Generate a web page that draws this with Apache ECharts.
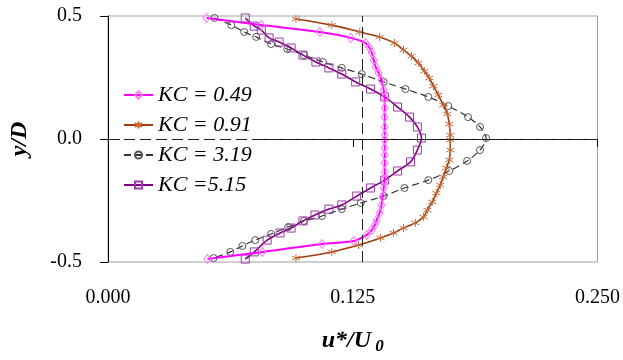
<!DOCTYPE html>
<html>
<head>
<meta charset="utf-8">
<script src="https://cdn.jsdelivr.net/npm/echarts@6/dist/echarts.min.js"></script>
<style>html,body{margin:0;padding:0;background:#fff;}#c{width:623px;height:360px;}</style>
</head>
<body>
<div id="c"></div>
<script>
// y/D positions and u*/U0 values
const kc049U = [0.0503,0.0783,0.1082,0.1240,0.1316,0.1336,0.1347,0.1357,0.1367,0.1382,0.1397,0.1408,0.1413,0.1413,0.1413,0.1413,0.1413,
                0.1413,0.1413,0.1413,0.1413,0.1413,0.1413,0.1408,0.1402,0.1397,0.1387,0.1372,0.1362,0.1347,0.1321,0.1255,0.1093,0.0788,0.0508];
const kc049Y = [0.492,0.463,0.435,0.411,0.390,0.370,0.350,0.321,0.293,0.268,0.240,0.199,0.167,0.126,0.089,0.049,0.016,
                -0.004,-0.037,-0.065,-0.098,-0.134,-0.167,-0.199,-0.236,-0.268,-0.301,-0.329,-0.350,-0.370,-0.390,-0.415,-0.427,-0.459,-0.488];

const kc091U = [0.0960,0.1143,0.1286,0.1387,0.1463,0.1509,0.1550,0.1585,0.1616,0.1641,0.1662,0.1687,0.1712,0.1733,0.1743,0.1748,
                0.1748,0.1748,0.1743,0.1728,0.1712,0.1697,0.1677,0.1656,0.1631,0.1611,0.1570,0.1509,0.1458,0.1392,0.1280,0.1143,0.0960];
const kc091Y = [0.488,0.463,0.435,0.415,0.390,0.362,0.337,0.309,0.276,0.248,0.215,0.179,0.138,0.102,0.061,0.016,
                -0.004,-0.045,-0.085,-0.118,-0.154,-0.187,-0.220,-0.256,-0.289,-0.317,-0.341,-0.362,-0.382,-0.402,-0.431,-0.459,-0.484];

const kc319U = [0.0544,0.0630,0.0696,0.0757,0.0833,0.0915,0.1001,0.1098,0.1194,0.1296,0.1408,0.1519,0.1636,0.1738,0.1839,0.1900,0.1931,
                0.1900,0.1834,0.1743,0.1636,0.1514,0.1408,0.1291,0.1194,0.1093,0.1001,0.0920,0.0833,0.0752,0.0686,0.0625,0.0539];
const kc319Y = [0.492,0.463,0.435,0.415,0.386,0.366,0.341,0.313,0.289,0.264,0.232,0.203,0.171,0.134,0.089,0.049,0.004,
                -0.045,-0.089,-0.130,-0.167,-0.199,-0.232,-0.260,-0.285,-0.313,-0.333,-0.358,-0.386,-0.411,-0.435,-0.459,-0.484];

const kc515U = [0.0701,0.0747,0.0783,0.0823,0.0874,0.0935,0.0996,0.1062,0.1128,0.1194,0.1265,0.1341,0.1413,0.1479,0.1540,0.1580,0.1601,
                0.1580,0.1545,0.1479,0.1413,0.1341,0.1270,0.1194,0.1128,0.1057,0.0996,0.0935,0.0879,0.0813,0.0747,0.0701];
const kc515Y = [0.492,0.459,0.443,0.411,0.394,0.370,0.341,0.313,0.289,0.264,0.232,0.203,0.171,0.130,0.089,0.049,0.004,
                -0.045,-0.093,-0.130,-0.167,-0.199,-0.232,-0.268,-0.285,-0.309,-0.333,-0.362,-0.382,-0.411,-0.459,-0.488];

const seriesNames = ['KC = 0.49','KC = 0.91','KC = 3.19','KC =5.15'];
const xTicks = [0, 0.125, 0.25];
const yTicks = [-0.5, 0, 0.5];

function zip(u, y){ return u.map((v,i)=>[v, y[i]]); }

const serif = '"Liberation Serif","DejaVu Serif",serif';
const asterisk = 'path://M0,-5L0,5M-4.3,-2.5L4.3,2.5M-4.3,2.5L4.3,-2.5';

const chart = echarts.init(document.getElementById('c'), null, {renderer:'canvas'});
chart.setOption({
  animation:false,
  backgroundColor:'#ffffff',
  grid:{left:108, right:23, top:16, bottom:98, show:true, borderColor:'#a0a0a0', borderWidth:1, backgroundColor:'transparent'},
  legend:{
    left:120, top:82, orient:'vertical', itemGap:8, itemWidth:29, itemHeight:9,
    backgroundColor:'#ffffff', padding:[2,4,2,3],
    textStyle:{fontFamily:serif, fontStyle:'italic', fontSize:22, color:'#000'},
    data:seriesNames
  },
  xAxis:{
    type:'value', min:xTicks[0], max:xTicks[2], interval:0.125,
    name:'{a|u*/U}{b| 0}', nameLocation:'middle', nameGap:64,
    nameTextStyle:{rich:{
      a:{fontFamily:serif, fontStyle:'italic', fontWeight:'bold', fontSize:24, color:'#000'},
      b:{fontFamily:serif, fontStyle:'italic', fontWeight:'bold', fontSize:17, color:'#000', padding:[12,0,0,0]}
    }},
    axisLine:{lineStyle:{color:'#000', width:1}},
    axisTick:{show:true, length:8, lineStyle:{color:'#000'}},
    axisLabel:{margin:26, fontFamily:serif, fontSize:20, color:'#000', formatter:v=>v.toFixed(3)},
    splitLine:{show:false}
  },
  yAxis:{
    type:'value', min:yTicks[0], max:yTicks[2], interval:0.5,
    name:'y/D', nameLocation:'middle', nameGap:76, nameRotate:90,
    nameTextStyle:{fontFamily:serif, fontStyle:'italic', fontWeight:'bold', fontSize:24, color:'#000'},
    axisLine:{show:true, lineStyle:{color:'#000', width:1}},
    axisTick:{show:true, length:8, lineStyle:{color:'#000'}},
    axisLabel:{margin:26, fontFamily:serif, fontSize:20, color:'#000', formatter:v=>v.toFixed(1)},
    splitLine:{show:false}
  },
  series:[
    {
      name:seriesNames[0], type:'line', data:zip(kc049U,kc049Y), smooth:0.3,
      symbol:'diamond', symbolSize:[7,9], showAllSymbol:true,
      lineStyle:{color:'#ff00ff', width:2},
      itemStyle:{color:'rgba(255,255,255,0)', borderColor:'#ff77ff', borderWidth:1},
      z:4,
      markLine:{
        silent:true, symbol:'none', label:{show:false},
        lineStyle:{color:'#222', type:[11,5], width:1},
        data:[{xAxis:0.125},{yAxis:0}]
      }
    },
    {
      name:seriesNames[1], type:'line', data:zip(kc091U,kc091Y), smooth:0.3,
      symbol:asterisk, symbolSize:8, showAllSymbol:true,
      lineStyle:{color:'#a33c0a', width:1.6},
      itemStyle:{color:'rgba(0,0,0,0)', borderColor:'#c86a3a', borderWidth:1},
      z:3
    },
    {
      name:seriesNames[2], type:'line', data:zip(kc319U,kc319Y), smooth:0.3,
      symbol:'circle', symbolSize:7, showAllSymbol:true,
      lineStyle:{color:'#333333', width:1.2, type:[7,4]},
      itemStyle:{color:'rgba(255,255,255,0)', borderColor:'#555555', borderWidth:1},
      z:2
    },
    {
      name:seriesNames[3], type:'line', data:zip(kc515U,kc515Y), smooth:0.3,
      symbol:'rect', symbolSize:8, showAllSymbol:true,
      lineStyle:{color:'#800080', width:1.6},
      itemStyle:{color:'rgba(255,255,255,0)', borderColor:'#9a3aa8', borderWidth:1},
      z:3
    }
  ]
});
</script>
</body>
</html>
